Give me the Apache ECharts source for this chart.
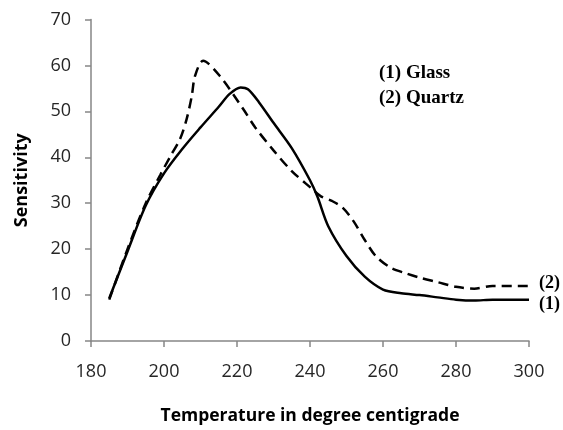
<!DOCTYPE html>
<html><head><meta charset="utf-8">
<script src="https://cdn.jsdelivr.net/npm/echarts@6/dist/echarts.min.js"></script>
<style>html,body{margin:0;padding:0;background:#fff}#c{width:563px;height:430px}</style>
</head><body><div id="c"></div>
<script>
const glassX = [185,190,195,200,205,210,215,218,221,223,226,230,235,240,242,245,250,255,260,265,270,275,280,285,290,300];
const glassY = [9.3,19.5,29.5,36.5,41.8,46.5,51,53.8,55.2,54.8,52,47.5,42,35,31.5,25,18.5,14,11.2,10.4,10,9.5,9,8.8,9,9];
const quartzX = [185,190,195,199,201.6,204.4,206.2,207.6,208.5,210.7,215.3,221.7,225,230,235,240,243,246,249,252,255,258,262,266,270,275,280,285,290,300];
const quartzY = [9,20,30,36.2,40,44,48.3,53.3,57.7,61,57.7,50.5,46.5,41.5,37,33.5,31.5,30.5,29,26,22,18.5,16,14.8,13.8,12.8,11.8,11.4,12,12];
const xTicks = [180,200,220,240,260,280,300];
const yTicks = [0,10,20,30,40,50,60,70];
const legendLines = ['(1) Glass','(2) Quartz'];
const endLabels = ['(1)','(2)'];

const chart = echarts.init(document.getElementById('c'));
const pair = (xs, ys) => xs.map((x,i)=>[x, ys[i]]);
const axisLine = {show:true, lineStyle:{color:'#868686', width:1.5}};
const lblStyle = {color:'#262626', fontFamily:'Open Sans', fontSize:18};
chart.setOption({
  animation:false,
  grid:{left:91, right:34, top:19.5, bottom:86},
  xAxis:{type:'value', min:xTicks[0], max:xTicks[xTicks.length-1], interval:20,
    axisLine, axisTick:{show:true, inside:false, length:6, lineStyle:{color:'#868686', width:1.5}},
    splitLine:{show:false}, axisLabel:Object.assign({margin:22}, lblStyle),
    name:'Temperature in degree centigrade', nameLocation:'middle', nameGap:66,
    nameTextStyle:{fontFamily:'Open Sans', fontWeight:'bold', fontSize:17.5, color:'#000'}},
  yAxis:{type:'value', min:yTicks[0], max:yTicks[yTicks.length-1], interval:10,
    axisLine, axisTick:{show:true, inside:false, length:6, lineStyle:{color:'#868686', width:1.5}},
    splitLine:{show:false}, axisLabel:Object.assign({margin:20}, lblStyle),
    name:'Sensitivity', nameLocation:'middle', nameGap:60, nameRotate:90,
    nameTextStyle:{fontFamily:'Open Sans', fontWeight:'bold', fontSize:18, color:'#000'}},
  graphic:[
    {type:'text', left:379, top:64, style:{text:legendLines[0], font:'bold 19px "Liberation Serif"', fill:'#000'}},
    {type:'text', left:379, top:89, style:{text:legendLines[1], font:'bold 19px "Liberation Serif"', fill:'#000'}}
  ],
  series:[
    {type:'line', data:pair(glassX, glassY), smooth:0.3, symbol:'none',
     lineStyle:{color:'#000', width:2.5},
     endLabel:{show:true, formatter:endLabels[0], distance:10, offset:[0,5], fontFamily:'Liberation Serif', fontWeight:'bold', fontSize:18, color:'#000'}},
    {type:'line', data:pair(quartzX, quartzY), smooth:0.3, symbol:'none',
     lineStyle:{color:'#000', width:2.5, type:[10,6]},
     endLabel:{show:true, formatter:endLabels[1], distance:10, offset:[0,-3], fontFamily:'Liberation Serif', fontWeight:'bold', fontSize:18, color:'#000'}}
  ]
});
</script></body></html>
